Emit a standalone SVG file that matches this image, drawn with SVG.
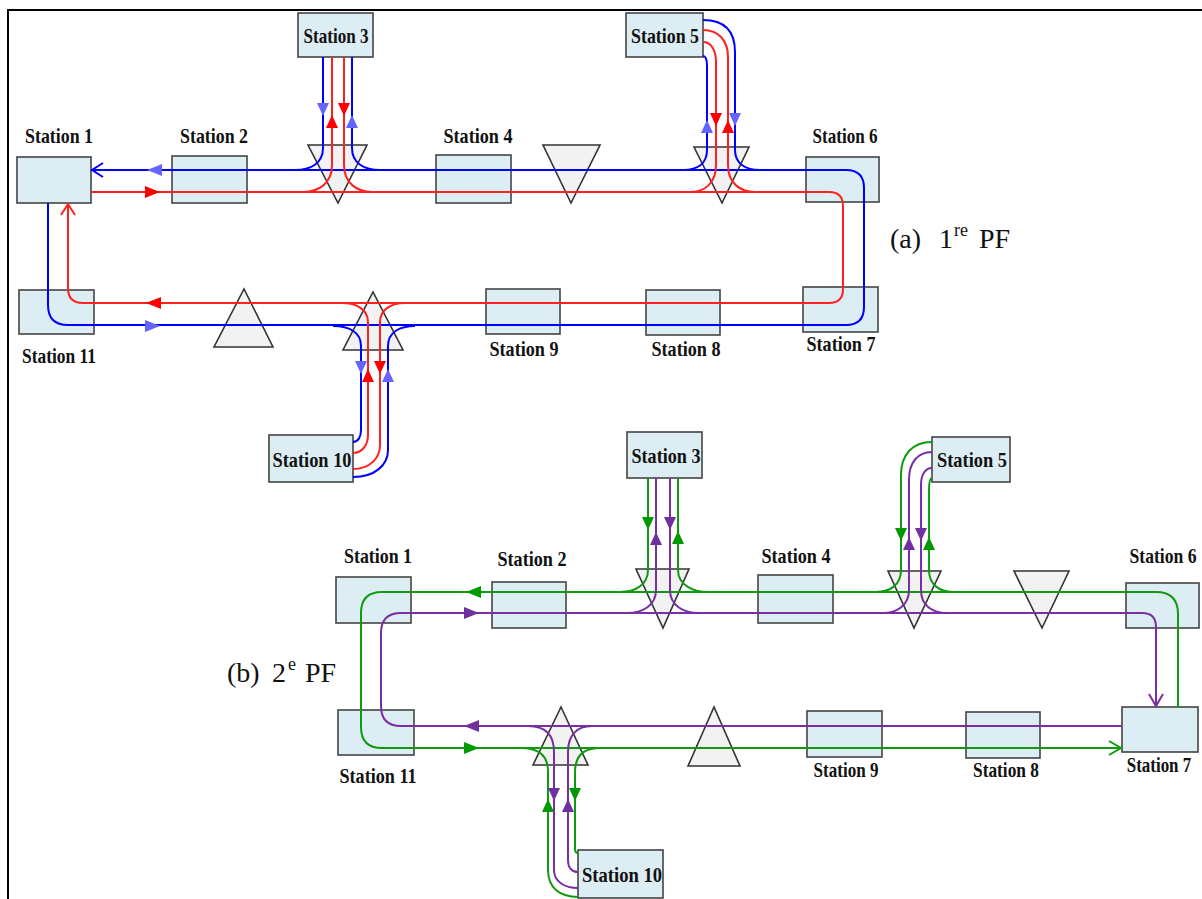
<svg xmlns="http://www.w3.org/2000/svg" xmlns:xlink="http://www.w3.org/1999/xlink" width="1202" height="899" viewBox="0 0 1202 899">
<style>
.box{fill:#dcedf3;stroke:#444;stroke-width:1.6}
.tri{fill:#f2f2f2;stroke:#333;stroke-width:1.6}
.lbl{font-family:"Liberation Serif",serif;font-weight:bold;font-size:22px;text-anchor:middle;fill:#111}
.cap{font-family:"Liberation Serif",serif;font-size:28px;fill:#111}
.sup{font-family:"Liberation Serif",serif;font-size:18px;fill:#111}
.ln{fill:none;stroke-width:2}
.b{stroke:#0000ff}.r{stroke:#ff2020}.g{stroke:#109a10}.p{stroke:#7a2ea3}
.fb{fill:#6464ff}.fr{fill:#ff0000}.fg{fill:#009900}.fp{fill:#7030a0}
</style>
<defs>
<path id="aD" d="M-6,0 H6 L0,13 Z"/>
<path id="aU" d="M-6,13 L0,0 L6,13 Z"/>
<path id="aL" d="M0,0 L15,-6 L15,6 Z"/>
<path id="aR" d="M0,-6 L15,0 L0,6 Z"/>
</defs>
<rect width="1202" height="899" fill="#fff"/>
<path d="M8,899 V10 H1202" fill="none" stroke="#000" stroke-width="2"/>

<!-- Diagram (a) nodes -->
<g id="a-station1"><rect class="box" x="17" y="157" width="74" height="46"/><text class="lbl" x="59" y="143" textLength="68" lengthAdjust="spacingAndGlyphs">Station 1</text></g>
<g id="a-station2"><rect class="box" x="172" y="156" width="75" height="47"/><text class="lbl" x="214" y="143" textLength="68" lengthAdjust="spacingAndGlyphs">Station 2</text></g>
<g id="a-station3"><rect class="box" x="298" y="13" width="75" height="44"/><text class="lbl" x="336" y="43" textLength="65" lengthAdjust="spacingAndGlyphs">Station 3</text></g>
<g id="a-station4"><rect class="box" x="436" y="155" width="75" height="48"/><text class="lbl" x="478" y="143" textLength="69" lengthAdjust="spacingAndGlyphs">Station 4</text></g>
<g id="a-station5"><rect class="box" x="626" y="13" width="77" height="44"/><text class="lbl" x="665" y="43" textLength="68" lengthAdjust="spacingAndGlyphs">Station 5</text></g>
<g id="a-station6"><rect class="box" x="806" y="157" width="73" height="45"/><text class="lbl" x="845" y="143" textLength="65" lengthAdjust="spacingAndGlyphs">Station 6</text></g>
<g id="a-station7"><rect class="box" x="803" y="287" width="75" height="45"/><text class="lbl" x="841" y="351" textLength="69" lengthAdjust="spacingAndGlyphs">Station 7</text></g>
<g id="a-station8"><rect class="box" x="646" y="290" width="74" height="45"/><text class="lbl" x="686" y="356" textLength="69" lengthAdjust="spacingAndGlyphs">Station 8</text></g>
<g id="a-station9"><rect class="box" x="486" y="289" width="74" height="45"/><text class="lbl" x="524" y="356" textLength="69" lengthAdjust="spacingAndGlyphs">Station 9</text></g>
<g id="a-station10"><rect class="box" x="269" y="435" width="84" height="47"/><text class="lbl" x="312" y="467" textLength="79" lengthAdjust="spacingAndGlyphs">Station 10</text></g>
<g id="a-station11"><rect class="box" x="19" y="290" width="75" height="44"/><text class="lbl" x="59" y="363" textLength="74" lengthAdjust="spacingAndGlyphs">Station 11</text></g>
<g id="a-tri1"><polygon class="tri" points="308,145 367,145 338,203"/></g>
<g id="a-tri2"><polygon class="tri" points="543,145 600,145 571,203"/></g>
<g id="a-tri3"><polygon class="tri" points="694,147 749,147 722,203"/></g>
<g id="a-tri4"><polygon class="tri" points="214,347 273,347 244,289"/></g>
<g id="a-tri5"><polygon class="tri" points="343,350 403,350 373,292"/></g>
<g id="a-caption"><text class="cap" x="890" y="248">(a)</text><text class="cap" x="939" y="248">1</text><text class="sup" x="954" y="236">re</text><text class="cap" x="979" y="248">PF</text></g>

<!-- Diagram (b) nodes -->
<g id="b-station1"><rect class="box" x="336" y="577" width="75" height="46"/><text class="lbl" x="378" y="563" textLength="68" lengthAdjust="spacingAndGlyphs">Station 1</text></g>
<g id="b-station2"><rect class="box" x="492" y="582" width="74" height="46"/><text class="lbl" x="532" y="566" textLength="69" lengthAdjust="spacingAndGlyphs">Station 2</text></g>
<g id="b-station3"><rect class="box" x="627" y="432" width="75" height="46"/><text class="lbl" x="666" y="463" textLength="69" lengthAdjust="spacingAndGlyphs">Station 3</text></g>
<g id="b-station4"><rect class="box" x="758" y="575" width="75" height="48"/><text class="lbl" x="796" y="563" textLength="69" lengthAdjust="spacingAndGlyphs">Station 4</text></g>
<g id="b-station5"><rect class="box" x="932" y="437" width="78" height="45"/><text class="lbl" x="972" y="467" textLength="70" lengthAdjust="spacingAndGlyphs">Station 5</text></g>
<g id="b-station6"><rect class="box" x="1126" y="583" width="73" height="45"/><text class="lbl" transform="translate(1163,563) scale(0.8,1)" x="0" y="0">Station 6</text></g>
<g id="b-station7"><rect class="box" x="1122" y="707" width="76" height="45"/><text class="lbl" transform="translate(1159,772) scale(0.77,1)" x="0" y="0">Station 7</text></g>
<g id="b-station8"><rect class="box" x="966" y="712" width="74" height="46"/><text class="lbl" x="1006" y="777" textLength="66" lengthAdjust="spacingAndGlyphs">Station 8</text></g>
<g id="b-station9"><rect class="box" x="807" y="711" width="75" height="46"/><text class="lbl" x="846" y="777" textLength="65" lengthAdjust="spacingAndGlyphs">Station 9</text></g>
<g id="b-station10"><rect class="box" x="578" y="850" width="85" height="48"/><text class="lbl" x="622" y="882" textLength="80" lengthAdjust="spacingAndGlyphs">Station 10</text></g>
<g id="b-station11"><rect class="box" x="338" y="710" width="76" height="45"/><text class="lbl" x="378" y="783" textLength="77" lengthAdjust="spacingAndGlyphs">Station 11</text></g>
<g id="b-tri1"><polygon class="tri" points="636,569 689,569 663,628"/></g>
<g id="b-tri2"><polygon class="tri" points="888,571 941,571 914,628"/></g>
<g id="b-tri3"><polygon class="tri" points="1014,571 1069,571 1042,628"/></g>
<g id="b-tri4"><polygon class="tri" points="533,765 588,765 561,707"/></g>
<g id="b-tri5"><polygon class="tri" points="688,766 740,766 714,707"/></g>
<g id="b-caption"><text class="cap" x="227" y="682">(b)</text><text class="cap" x="272" y="682">2</text><text class="sup" x="288" y="670">e</text><text class="cap" x="305" y="682">PF</text></g>

<!-- Connectors -->
<g id="connectors">
 <!-- (a) main loops -->
 <path class="ln b" d="M91,170 H846 Q864,170 864,188 V307 Q864,325 846,325 H68 Q48,325 48,305 V203"/>
 <path class="ln b" d="M103,163 L92,170 L103,177"/>
 <path class="ln r" d="M91,192 H829 Q843,192 843,206 V289 Q843,303 829,303 H83 Q68,303 68,288 V204"/>
 <path class="ln r" d="M61,215 L68,204 L75,215"/>
 <!-- (a) station 3 branches -->
 <path class="ln b" d="M323,57 V148 C323,164 310,170 295,170"/>
 <path class="ln b" d="M352,57 V148 C352,164 365,170 380,170"/>
 <path class="ln r" d="M332,57 V165 C332,184 318,192 303,192"/>
 <path class="ln r" d="M344,57 V165 C344,184 358,192 372,192"/>
 <!-- (a) station 5 branches -->
 <path class="ln b" d="M703,20 C724,20 735,31 735,52 V150 C735,164 746,170 760,170"/>
 <path class="ln r" d="M703,30 C719,30 728,41 728,57 V165 C728,184 741,192 755,192"/>
 <path class="ln r" d="M703,42 C711,42 716,50 716,62 V165 C716,184 704,192 690,192"/>
 <path class="ln b" d="M703,56 C706,56 707,60 707,66 V150 C707,164 697,170 683,170"/>
 <!-- (a) station 10 branches -->
 <path class="ln b" d="M353,442 C358,442 361,437 361,430 V346 C361,332 349,326 333,326"/>
 <path class="ln r" d="M353,453 C362,453 368,445 368,435 V322 C368,309 356,303 342,303"/>
 <path class="ln r" d="M353,469 C370,469 380,458 380,445 V322 C380,309 392,303 405,303"/>
 <path class="ln b" d="M353,477 C375,477 388,465 388,450 V346 C388,332 400,326 415,326"/>
 <!-- (a) filled arrows -->
 <use href="#aL" x="147" y="170" class="fb"/>
 <use href="#aR" x="145" y="192" class="fr"/>
 <use href="#aL" x="146" y="303" class="fr"/>
 <use href="#aR" x="145" y="326" class="fb"/>
 <use href="#aD" x="323" y="103" class="fb"/>
 <use href="#aU" x="332" y="115" class="fr"/>
 <use href="#aD" x="344" y="103" class="fr"/>
 <use href="#aU" x="352" y="115" class="fb"/>
 <use href="#aU" x="707" y="120" class="fb"/>
 <use href="#aD" x="716" y="113" class="fr"/>
 <use href="#aU" x="728" y="120" class="fr"/>
 <use href="#aD" x="735" y="113" class="fb"/>
 <use href="#aD" x="361" y="361" class="fb"/>
 <use href="#aU" x="368" y="369" class="fr"/>
 <use href="#aD" x="380" y="361" class="fr"/>
 <use href="#aU" x="388" y="369" class="fb"/>

 <!-- (b) main loops -->
 <path class="ln g" d="M1178,707 V614 Q1178,592 1156,592 H382 Q361,592 361,613 V727 Q361,748 382,748 H1122"/>
 <path class="ln g" d="M1073,748 H1118" stroke-width="3"/>
 <path class="ln g" d="M1109,741 L1121,748 L1109,755"/>
 <path class="ln p" d="M1122,726 H401 Q381,726 381,706 V633 Q381,613 401,613 H1142 Q1156,613 1156,627 V706"/>
 <path class="ln p" d="M1149,694 L1156,706 L1163,694"/>
 <!-- (b) station 3 branches -->
 <path class="ln g" d="M648,478 V570 C648,585 635,592 620,592"/>
 <path class="ln p" d="M656,478 V590 C656,606 642,613 627,613"/>
 <path class="ln p" d="M670,478 V590 C670,606 684,613 699,613"/>
 <path class="ln g" d="M678,478 V570 C678,585 693,592 708,592"/>
 <!-- (b) station 5 branches -->
 <path class="ln g" d="M932,442 C912,442 901,455 901,475 V570 C901,585 890,592 876,592"/>
 <path class="ln p" d="M932,452 C918,452 909,462 909,480 V590 C909,606 896,613 883,613"/>
 <path class="ln p" d="M932,468 C925,468 921,475 921,485 V590 C921,606 933,613 947,613"/>
 <path class="ln g" d="M932,478 C930,478 929,482 929,490 V570 C929,585 940,592 953,592"/>
 <!-- (b) station 10 branches -->
 <path class="ln g" d="M520,748 C540,748 548,756 548,772 V870 C548,888 560,897 578,897"/>
 <path class="ln p" d="M528,726 C545,726 554,735 554,752 V870 C554,882 565,888 578,888"/>
 <path class="ln p" d="M592,726 C577,726 568,735 568,752 V860 C568,868 572,872 578,872"/>
 <path class="ln g" d="M600,748 C583,748 575,756 575,772 V849 C575,852 576,853 578,853"/>
 <!-- (b) filled arrows -->
 <use href="#aL" x="466" y="592" class="fg"/>
 <use href="#aR" x="464" y="613" class="fp"/>
 <use href="#aL" x="464" y="726" class="fp"/>
 <use href="#aR" x="464" y="748" class="fg"/>
 <use href="#aD" x="648" y="517" class="fg"/>
 <use href="#aU" x="656" y="532" class="fp"/>
 <use href="#aD" x="670" y="517" class="fp"/>
 <use href="#aU" x="678" y="531" class="fg"/>
 <use href="#aD" x="901" y="528" class="fg"/>
 <use href="#aU" x="909" y="537" class="fp"/>
 <use href="#aD" x="921" y="528" class="fp"/>
 <use href="#aU" x="929" y="537" class="fg"/>
 <use href="#aD" x="554" y="788" class="fp"/>
 <use href="#aU" x="548" y="799" class="fg"/>
 <use href="#aU" x="568" y="799" class="fp"/>
 <use href="#aD" x="575" y="788" class="fg"/>
</g>
</svg>
